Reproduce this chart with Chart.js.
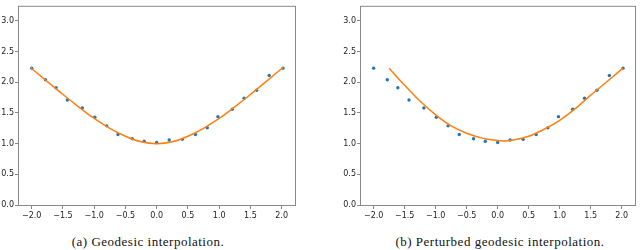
<!DOCTYPE html>
<html>
<head>
<meta charset="utf-8">
<script src="https://cdn.jsdelivr.net/npm/chart.js@4/dist/chart.umd.min.js"></script>
<style>
  body { margin: 0; background: #fff; width: 640px; height: 250px; position: relative; overflow: hidden; }
  canvas { position: absolute; top: 0; }
  .cap { position: absolute; top: 234px; font-family: "Liberation Serif", serif; font-size: 13px; letter-spacing: 0.5px; color: #111; white-space: nowrap; transform: translateX(-50%); }
</style>
</head>
<body>
<canvas id="left" width="300" height="225" style="left:0px"></canvas>
<canvas id="right" width="298" height="225" style="left:342px"></canvas>
<div class="cap" style="left:148px">(a) Geodesic interpolation.</div>
<div class="cap" style="left:500px">(b) Perturbed geodesic interpolation.</div>
<script>
// sampled points (same in both panels)
const pointX = [-2.0, -1.78, -1.61, -1.43, -1.19, -0.99, -0.80, -0.62, -0.39, -0.20, 0.0, 0.20, 0.41, 0.62, 0.81, 0.98, 1.21, 1.40, 1.60, 1.80, 2.02];
const pointY = [2.23, 2.04, 1.91, 1.71, 1.58, 1.43, 1.29, 1.15, 1.08, 1.04, 1.02, 1.06, 1.07, 1.15, 1.26, 1.44, 1.56, 1.74, 1.87, 2.11, 2.23];

// orange curves
const geoX = [-2.02, -1.75, -1.5, -1.25, -1.0, -0.75, -0.5, -0.25, 0, 0.25, 0.5, 0.75, 1.0, 1.25, 1.5, 1.75, 2.02];
const geoY = [2.24, 2.01, 1.80, 1.60, 1.41, 1.25, 1.12, 1.03, 1.0, 1.03, 1.12, 1.25, 1.41, 1.60, 1.80, 2.01, 2.24];
const pertX = [-1.75, -1.5, -1.25, -1.0, -0.75, -0.5, -0.25, 0, 0.1, 0.25, 0.5, 0.75, 1.0, 1.25, 1.5, 1.75, 2.02];
const pertY = [2.23, 1.95, 1.69, 1.47, 1.29, 1.17, 1.09, 1.05, 1.045, 1.06, 1.12, 1.235, 1.38, 1.57, 1.79, 2.0, 2.23];

const xTicks = [-2.0, -1.5, -1.0, -0.5, 0.0, 0.5, 1.0, 1.5, 2.0];
const yTicks = [0.0, 0.5, 1.0, 1.5, 2.0, 2.5, 3.0];

const BLUE = "#1f77b4";
const ORANGE = "#ff7f0e";
const FRAME = "#888";

const fmt = (v) => v.toFixed(1).replace("-", "\u2212");
const zip = (xs, ys) => xs.map((x, i) => ({ x: x, y: ys[i] }));

const frame = {
  id: "frame",
  afterDraw(chart) {
    const a = chart.chartArea;
    const ctx = chart.ctx;
    ctx.save();
    ctx.strokeStyle = FRAME;
    ctx.lineWidth = 1;
    ctx.strokeRect(a.left + 0.5, a.top + 0.5, a.right - a.left - 1, a.bottom - a.top - 1);
    ctx.restore();
  },
};

function makeChart(id, curveX, curveY) {
  const tickFont = { family: "DejaVu Sans", size: 8 };
  return new Chart(document.getElementById(id), {
    type: "scatter",
    data: {
      datasets: [
        {
          data: zip(curveX, curveY),
          showLine: true,
          borderColor: ORANGE,
          borderWidth: 1.5,
          pointRadius: 0,
          cubicInterpolationMode: "monotone",
        },
        {
          data: zip(pointX, pointY),
          backgroundColor: BLUE,
          borderWidth: 0,
          pointRadius: 1.7,
        },
      ],
    },
    options: {
      responsive: false,
      animation: false,
      layout: { padding: { top: 1, right: 3, left: 0, bottom: 0 } },
      plugins: { legend: { display: false }, tooltip: { enabled: false } },
      scales: {
        x: {
          type: "linear",
          min: -2.22,
          max: 2.23,
          afterBuildTicks: (s) => { s.ticks = xTicks.map((v) => ({ value: v })); },
          afterFit: (s) => { s.height = 19; },
          border: { display: false },
          grid: { drawOnChartArea: false, drawTicks: true, tickLength: 3, color: FRAME },
          ticks: { callback: fmt, font: tickFont, color: "#222", padding: 2, maxRotation: 0 },
        },
        y: {
          type: "linear",
          min: -0.015,
          max: 3.245,
          afterBuildTicks: (s) => { s.ticks = yTicks.map((v) => ({ value: v })); },
          afterFit: (s) => { s.width = 18; },
          border: { display: false },
          grid: { drawOnChartArea: false, drawTicks: true, tickLength: 3, color: FRAME },
          ticks: { callback: fmt, font: tickFont, color: "#222", padding: 1 },
        },
      },
    },
    plugins: [frame],
  });
}

makeChart("left", geoX, geoY);
makeChart("right", pertX, pertY);
</script>
</body>
</html>
